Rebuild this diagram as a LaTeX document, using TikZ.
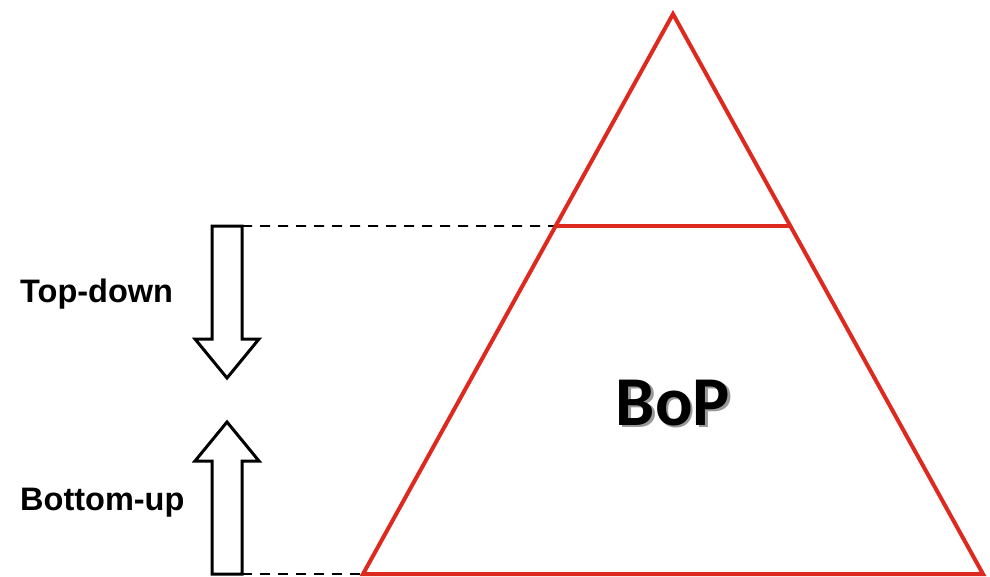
\documentclass[tikz,border=0pt]{standalone}
\usepackage{fontspec}
\setmainfont{Liberation Sans}
\newfontfamily\bopfont{Carlito}
\usepackage{tikz}
\usetikzlibrary{positioning,calc}
\definecolor{pyrred}{RGB}{222,42,30}
\newcommand{\shadowtext}[1]{\makebox[0pt][l]{\hspace{2.5pt}\raisebox{-2.5pt}{\color{black!40}#1}}#1}

\begin{document}
\begin{tikzpicture}[
			x=1pt,y=-1pt,
			pyramid/.style={
				draw=pyrred,
				line width=4pt,
				line join=miter
			},
			guide/.style={
				draw=black,
				line width=1.8pt,
				dash pattern=on 10pt off 8pt
			},
			blockarrow/.style={draw=black,fill=white,line width=3pt,line join=miter},
			label/.style={anchor=base west,inner sep=0pt,font=\bfseries\fontsize{32.5}{36}\selectfont}
			]
			
			\useasboundingbox (0,0) rectangle (990,576);
			
			\coordinate (apex) at (673,14);
			\coordinate (left) at (363,574);
			\coordinate (right) at (983,574);
			\coordinate (cutL) at ($(apex)!0.3786!(left)$);
			\coordinate (cutR) at ($(apex)!0.3786!(right)$);
			\coordinate (downtop) at (242,226);
			\coordinate (uptail) at (242,574);
			
			\draw[guide] (downtop)--(cutL);
			\draw[guide] (uptail)--(left);
			
			\draw[pyramid] (apex)--(left)--(right)--cycle;
			\draw[pyramid,line width=3.5pt] (cutL)--(cutR);
			
			\draw[blockarrow] (212,226)--(downtop)--(242,339)--(259,339)--(227,378)
			--(195,339)--(212,339)--cycle;
			\draw[blockarrow] (212,574)--(uptail)--(242,461)--(259,461)--(227,422)
			--(195,461)--(212,461)--cycle;
			
			\node[label] (topdown) at (20,302) {Top-down};
			\node[label] (bottomup) at (20,510) {Bottom-up};
			
			\node[anchor=base,inner sep=0pt,font=\bopfont\bfseries\fontsize{70}{72}\selectfont] (bop) at (673,425) {\shadowtext{BoP}};
			
		\end{tikzpicture}
\end{document}
